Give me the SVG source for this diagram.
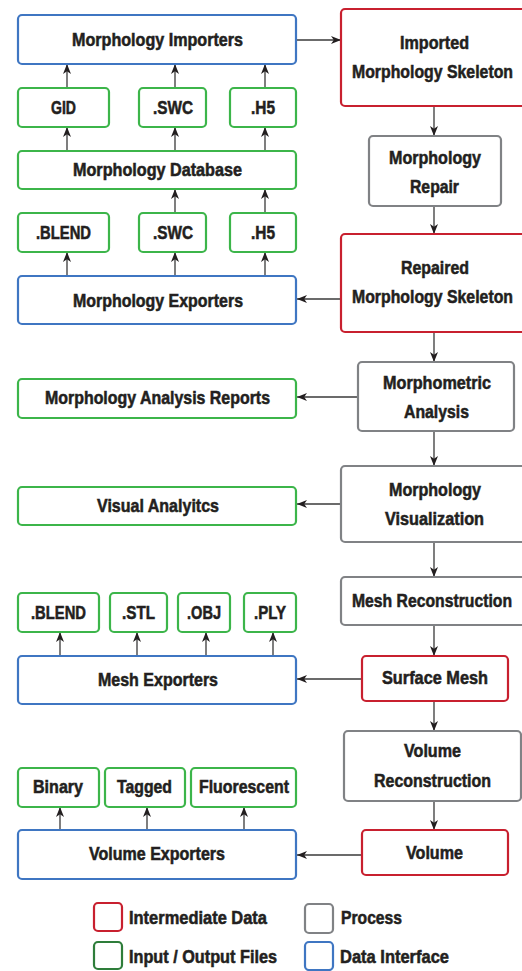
<svg xmlns="http://www.w3.org/2000/svg" width="522" height="971" viewBox="0 0 522 971">
<defs>
<marker id="ah" markerUnits="userSpaceOnUse" markerWidth="11" markerHeight="9" refX="10" refY="4.5" orient="auto">
<path d="M0,0.5 L10,4.5 L0,8.5 L2.8,4.5 z" fill="#231f20"/>
</marker>
<style>
rect{fill:#fff;stroke-width:2.2}
.io rect{stroke:#3cb54a}
.di rect{stroke:#3f76c2}
.im rect{stroke:#c8202f}
.pr rect{stroke:#808285}
text{font-family:"Liberation Sans",Arial,sans-serif;font-weight:bold;font-size:18.5px;fill:#231f20;stroke:#231f20;stroke-width:0.55px}
#connectors line{stroke:#3a3a3a;stroke-width:1.3;marker-end:url(#ah)}
</style>
</defs>
<rect x="0" y="0" width="522" height="971" style="fill:#fff;stroke:none"/>

<g id="connectors">
<line x1="296" y1="40" x2="341" y2="40"/>
<line x1="67" y1="88" x2="67" y2="64"/>
<line x1="175" y1="88" x2="175" y2="64"/>
<line x1="265" y1="88" x2="265" y2="64"/>
<line x1="67" y1="151" x2="67" y2="127"/>
<line x1="175" y1="151" x2="175" y2="127"/>
<line x1="265" y1="151" x2="265" y2="127"/>
<line x1="175" y1="213" x2="175" y2="189"/>
<line x1="265" y1="213" x2="265" y2="189"/>
<line x1="67" y1="276" x2="67" y2="252"/>
<line x1="175" y1="276" x2="175" y2="252"/>
<line x1="265" y1="276" x2="265" y2="252"/>
<line x1="434" y1="106" x2="434" y2="136"/>
<line x1="434" y1="206" x2="434" y2="234"/>
<line x1="434" y1="332" x2="434" y2="362"/>
<line x1="434" y1="431" x2="434" y2="466"/>
<line x1="434" y1="542" x2="434" y2="577"/>
<line x1="434" y1="625" x2="434" y2="656"/>
<line x1="434" y1="701" x2="434" y2="731"/>
<line x1="434" y1="801" x2="434" y2="830"/>
<line x1="341" y1="299" x2="297" y2="299"/>
<line x1="358" y1="397" x2="297" y2="397"/>
<line x1="341" y1="504" x2="297" y2="504"/>
<line x1="362" y1="679" x2="297" y2="679"/>
<line x1="362" y1="855" x2="297" y2="855"/>
<line x1="60" y1="656" x2="60" y2="632"/>
<line x1="137" y1="656" x2="137" y2="632"/>
<line x1="206" y1="656" x2="206" y2="632"/>
<line x1="273" y1="656" x2="273" y2="632"/>
<line x1="60" y1="830" x2="60" y2="807"/>
<line x1="147" y1="830" x2="147" y2="807"/>
<line x1="244" y1="830" x2="244" y2="807"/>
</g>

<g id="morph-importers" class="di"><rect x="18" y="15" width="278" height="49" rx="4"/><text x="72" y="46" textLength="171" lengthAdjust="spacingAndGlyphs">Morphology Importers</text></g>
<g id="in-gid" class="io"><rect x="18" y="88" width="91" height="39" rx="4"/><text x="51" y="114" textLength="25" lengthAdjust="spacingAndGlyphs">GID</text></g>
<g id="in-swc" class="io"><rect x="139" y="88" width="67" height="39" rx="4"/><text x="153" y="114" textLength="40" lengthAdjust="spacingAndGlyphs">.SWC</text></g>
<g id="in-h5" class="io"><rect x="230" y="88" width="66" height="39" rx="4"/><text x="251" y="114" textLength="24" lengthAdjust="spacingAndGlyphs">.H5</text></g>
<g id="morph-db" class="io"><rect x="18" y="151" width="278" height="38" rx="4"/><text x="73" y="176" textLength="169" lengthAdjust="spacingAndGlyphs">Morphology Database</text></g>
<g id="out-blend" class="io"><rect x="18" y="213" width="91" height="39" rx="4"/><text x="36" y="239" textLength="55" lengthAdjust="spacingAndGlyphs">.BLEND</text></g>
<g id="out-swc" class="io"><rect x="139" y="213" width="67" height="39" rx="4"/><text x="153" y="239" textLength="40" lengthAdjust="spacingAndGlyphs">.SWC</text></g>
<g id="out-h5" class="io"><rect x="230" y="213" width="66" height="39" rx="4"/><text x="251" y="239" textLength="24" lengthAdjust="spacingAndGlyphs">.H5</text></g>
<g id="morph-exporters" class="di"><rect x="18" y="276" width="278" height="48" rx="4"/><text x="73" y="307" textLength="170" lengthAdjust="spacingAndGlyphs">Morphology Exporters</text></g>

<g id="imported-skel" class="im"><rect x="341" y="9" width="190" height="97" rx="4"/><text x="400" y="49" textLength="69" lengthAdjust="spacingAndGlyphs">Imported</text><text x="352" y="78" textLength="161" lengthAdjust="spacingAndGlyphs">Morphology Skeleton</text></g>
<g id="morph-repair" class="pr"><rect x="369" y="136" width="132" height="70" rx="4"/><text x="389" y="164" textLength="92" lengthAdjust="spacingAndGlyphs">Morphology</text><text x="410" y="193" textLength="49" lengthAdjust="spacingAndGlyphs">Repair</text></g>
<g id="repaired-skel" class="im"><rect x="341" y="234" width="190" height="98" rx="4"/><text x="401" y="274" textLength="68" lengthAdjust="spacingAndGlyphs">Repaired</text><text x="352" y="303" textLength="161" lengthAdjust="spacingAndGlyphs">Morphology Skeleton</text></g>
<g id="morphometric" class="pr"><rect x="358" y="362" width="156" height="69" rx="4"/><text x="383" y="389" textLength="108" lengthAdjust="spacingAndGlyphs">Morphometric</text><text x="404" y="418" textLength="65" lengthAdjust="spacingAndGlyphs">Analysis</text></g>
<g id="reports" class="io"><rect x="18" y="379" width="278" height="39" rx="4"/><text x="45" y="404" textLength="225" lengthAdjust="spacingAndGlyphs">Morphology Analysis Reports</text></g>
<g id="morph-vis" class="pr"><rect x="341" y="466" width="190" height="76" rx="4"/><text x="389" y="496" textLength="92" lengthAdjust="spacingAndGlyphs">Morphology</text><text x="385" y="525" textLength="99" lengthAdjust="spacingAndGlyphs">Visualization</text></g>
<g id="visual-analytics" class="io"><rect x="18" y="487" width="278" height="38" rx="4"/><text x="97" y="512" textLength="122" lengthAdjust="spacingAndGlyphs">Visual Analyitcs</text></g>
<g id="mesh-recon" class="pr"><rect x="341" y="577" width="190" height="48" rx="4"/><text x="352" y="607" textLength="160" lengthAdjust="spacingAndGlyphs">Mesh Reconstruction</text></g>

<g id="mesh-blend" class="io"><rect x="18" y="593" width="81" height="39" rx="4"/><text x="31" y="619" textLength="55" lengthAdjust="spacingAndGlyphs">.BLEND</text></g>
<g id="mesh-stl" class="io"><rect x="110" y="593" width="57" height="39" rx="4"/><text x="122" y="619" textLength="33" lengthAdjust="spacingAndGlyphs">.STL</text></g>
<g id="mesh-obj" class="io"><rect x="178" y="593" width="52" height="39" rx="4"/><text x="187" y="619" textLength="34" lengthAdjust="spacingAndGlyphs">.OBJ</text></g>
<g id="mesh-ply" class="io"><rect x="244" y="593" width="52" height="39" rx="4"/><text x="254" y="619" textLength="32" lengthAdjust="spacingAndGlyphs">.PLY</text></g>
<g id="mesh-exporters" class="di"><rect x="18" y="656" width="278" height="48" rx="4"/><text x="98" y="686" textLength="120" lengthAdjust="spacingAndGlyphs">Mesh Exporters</text></g>
<g id="surface-mesh" class="im"><rect x="362" y="656" width="146" height="45" rx="4"/><text x="382" y="684" textLength="106" lengthAdjust="spacingAndGlyphs">Surface Mesh</text></g>

<g id="vol-recon" class="pr"><rect x="344" y="731" width="177" height="70" rx="4"/><text x="404" y="757" textLength="57" lengthAdjust="spacingAndGlyphs">Volume</text><text x="374" y="787" textLength="117" lengthAdjust="spacingAndGlyphs">Reconstruction</text></g>
<g id="vol-binary" class="io"><rect x="18" y="768" width="81" height="39" rx="4"/><text x="33" y="793" textLength="50" lengthAdjust="spacingAndGlyphs">Binary</text></g>
<g id="vol-tagged" class="io"><rect x="105" y="768" width="80" height="39" rx="4"/><text x="117" y="793" textLength="55" lengthAdjust="spacingAndGlyphs">Tagged</text></g>
<g id="vol-fluor" class="io"><rect x="191" y="768" width="105" height="39" rx="4"/><text x="199" y="793" textLength="90" lengthAdjust="spacingAndGlyphs">Fluorescent</text></g>
<g id="vol-exporters" class="di"><rect x="18" y="830" width="278" height="49" rx="4"/><text x="89" y="860" textLength="136" lengthAdjust="spacingAndGlyphs">Volume Exporters</text></g>
<g id="volume" class="im"><rect x="362" y="830" width="146" height="45" rx="4"/><text x="406" y="859" textLength="57" lengthAdjust="spacingAndGlyphs">Volume</text></g>

<g id="legend">
<g class="im"><rect x="94" y="903" width="28" height="28" rx="4"/></g>
<text x="129" y="924" textLength="138" lengthAdjust="spacingAndGlyphs">Intermediate Data</text>
<g class="pr"><rect x="305" y="904" width="28" height="29" rx="4"/></g>
<text x="341" y="924" textLength="61" lengthAdjust="spacingAndGlyphs">Process</text>
<rect x="94" y="942" width="28" height="27" rx="4" style="stroke:#2e7d3a"/>
<text x="129" y="963" textLength="148" lengthAdjust="spacingAndGlyphs">Input / Output Files</text>
<g class="di"><rect x="305" y="942" width="28" height="28" rx="4"/></g>
<text x="340" y="963" textLength="109" lengthAdjust="spacingAndGlyphs">Data Interface</text>
</g>
</svg>
